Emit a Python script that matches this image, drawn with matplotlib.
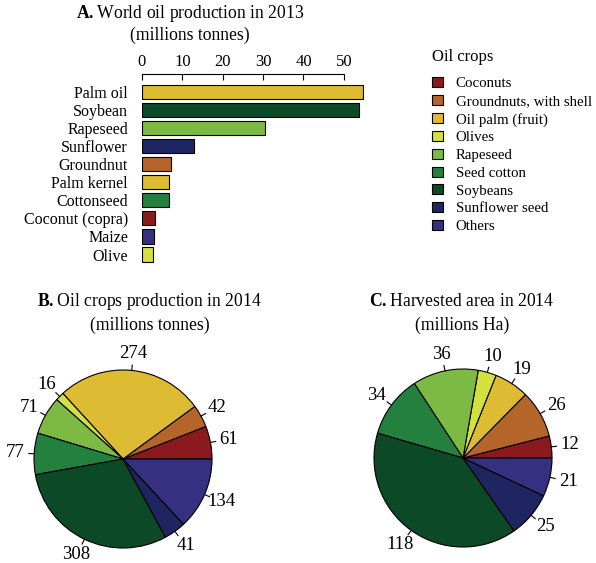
import numpy as np
import matplotlib
matplotlib.use("Agg")
import matplotlib.pyplot as plt
from matplotlib.patches import Patch

plt.rcParams['font.family'] = ['Liberation Serif', 'DejaVu Serif']
plt.rcParams['mathtext.fontset'] = 'custom'
plt.rcParams['mathtext.rm'] = 'Liberation Serif'
plt.rcParams['mathtext.bf'] = 'Liberation Serif:bold'

# colours per crop
crop_names = ["Coconuts", "Groundnuts, with shell", "Oil palm (fruit)", "Olives",
              "Rapeseed", "Seed cotton", "Soybeans", "Sunflower seed", "Others"]
crop_colors = ["#8B1A1F", "#B5652A", "#DDBB33", "#D4E040",
               "#7CBA44", "#23803F", "#0C4A27", "#1E2560", "#35307F"]

# A. oil production 2013
oil_names = ["Palm oil", "Soybean", "Rapeseed", "Sunflower", "Groundnut",
             "Palm kernel", "Cottonseed", "Coconut (copra)", "Maize", "Olive"]
oil_values = [54.7, 53.8, 30.4, 12.9, 7.1, 6.7, 6.7, 3.2, 3.0, 2.8]
oil_colors = ["#DDBB33", "#0C4A27", "#7CBA44", "#1E2560", "#B5652A",
              "#DDBB33", "#23803F", "#8B1A1F", "#35307F", "#D4E040"]

# B. production 2014 and C. harvested area 2014 (same order as crop_names)
prod_2014 = [61, 42, 274, 16, 71, 77, 308, 41, 134]
area_2014 = [12, 26, 19, 10, 36, 34, 118, 25, 21]

W, H = 596, 563
fig = plt.figure(figsize=(W / 100, H / 100), dpi=100)


def box(x0, y0, x1, y1):
    # pixel box -> figure fraction rect
    return [x0 / W, 1 - y1 / H, (x1 - x0) / W, (y1 - y0) / H]


# ---- bar chart
ax = fig.add_axes(box(142, 74, 364, 265))
y = np.arange(len(oil_names))
ax.barh(y, oil_values, height=0.78, color=oil_colors, edgecolor="black", linewidth=0.8)
ax.set_xlim(0, 55)
ax.set_ylim(9.58, -1.0)
ax.xaxis.tick_top()
ax.set_xticks([0, 10, 20, 30, 40, 50])
ax.tick_params(axis="x", direction="in", length=4, width=0.8, labelsize=12, pad=3)
ax.set_yticks(y)
ax.set_yticklabels(oil_names, fontsize=11.5)
ax.tick_params(axis="y", length=0, pad=10)
for s in ["left", "right", "bottom"]:
    ax.spines[s].set_visible(False)
ax.spines["top"].set_bounds(0, 50)
ax.spines["top"].set_linewidth(0.8)

fig.text(190 / W, 1 - 14 / H, r"$\mathbf{A.}$World oil production in 2013",
         ha="center", va="center", fontsize=12.7)
fig.text(190 / W, 1 - 35 / H, "(millions tonnes)", ha="center", va="center", fontsize=12.7)

# ---- legend
fig.text(432 / W, 1 - 57 / H, "Oil crops", ha="left", va="center", fontsize=12)
handles = [Patch(facecolor=c, edgecolor="black", linewidth=0.8) for c in crop_colors]
leg = fig.legend(handles, crop_names, loc="upper left", bbox_to_anchor=(432 / W, 1 - 77 / H),
                 frameon=False, fontsize=10.7, handlelength=0.75, handleheight=0.65,
                 handletextpad=0.85, labelspacing=0.31, borderpad=0, borderaxespad=0)


# ---- pies
def draw_pie(cx, cy, r, tx, values, title1, title2):
    pax = fig.add_axes(box(cx - r, cy - r, cx + r, cy + r))
    wedges, _ = pax.pie(values, colors=crop_colors, startangle=0, counterclock=True,
                        wedgeprops=dict(edgecolor="black", linewidth=0.8))
    pax.set_xlim(-1, 1)
    pax.set_ylim(-1, 1)
    pax.set_aspect("auto")
    for w, v in zip(wedges, values):
        ang = np.deg2rad((w.theta1 + w.theta2) / 2)
        c, s = np.cos(ang), np.sin(ang)
        pax.plot([c, 1.06 * c], [s, 1.06 * s], color="black", lw=0.8, clip_on=False)
        pax.text(1.21 * c, 1.19 * s, str(v), ha="center", va="center", fontsize=13.5)
    fig.text(tx / W, 1 - 302 / H, title1, ha="center", va="center", fontsize=12.7)
    fig.text(tx / W, 1 - 325 / H, title2, ha="center", va="center", fontsize=12.7)
    return pax


draw_pie(123, 459, 89, 150, prod_2014, r"$\mathbf{B.}$Oil crops production in 2014", "(millions tonnes)")
draw_pie(463, 458, 89, 462, area_2014, r"$\mathbf{C.}$Harvested area in 2014", "(millions Ha)")

fig.savefig("out.png", dpi=100)
